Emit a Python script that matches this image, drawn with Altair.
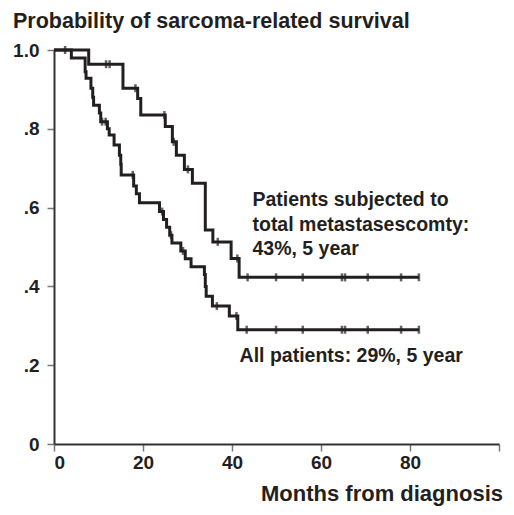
import altair as alt
import pandas as pd

# Kaplan-Meier curves (months, survival probability)
all_t = [0, 3.9, 7.0, 7.2, 8.3, 8.7, 8.9, 10.2, 10.5, 12.0, 12.4, 13.5, 14.7, 15.0, 15.1,
         17.9, 18.5, 19.2, 23.7, 24.6, 25.3, 26.0, 26.5, 28.5, 29.5, 30.8, 33.8, 34.0,
         34.2, 35.6, 39.4, 41.3, 82]
all_s = [1.0, 0.98, 0.945, 0.928, 0.903, 0.88, 0.86, 0.84, 0.818, 0.80, 0.784, 0.759, 0.733,
         0.71, 0.683, 0.655, 0.635, 0.612, 0.59, 0.57, 0.55, 0.53, 0.51, 0.49, 0.47, 0.45,
         0.43, 0.40, 0.375, 0.35, 0.325, 0.29, 0.29]
all_cens = [2.5, 10.8, 11.6, 17.7, 24.3, 26.3, 29.0, 36.6, 41.0, 43.3, 49.9, 55.9, 64.7,
            65.4, 70.5, 78.0, 82.0]

met_t = [0, 7.8, 15.5, 18.8, 19.5, 25.0, 26.6, 27.5, 29.3, 31.1, 34.0, 35.7, 39.8, 41.6, 82]
met_s = [1.0, 0.964, 0.903, 0.877, 0.835, 0.806, 0.767, 0.733, 0.697, 0.662, 0.543, 0.513,
         0.471, 0.423, 0.423]
met_cens = [11.7, 12.5, 18.3, 24.8, 26.9, 30.1, 36.8, 41.2, 43.5, 49.9, 55.9, 64.7, 65.4,
            70.5, 78.0, 82.0]

x_ticks = [0, 20, 40, 60, 80, 100]
y_ticks = [0, 0.2, 0.4, 0.6, 0.8, 1.0]

ann_text = ["Patients subjected to\ntotal metastasescomty:\n43%, 5 year",
            "All patients: 29%, 5 year"]
ann_t = [44.6, 41.7]
ann_s = [0.603, 0.208]

FONT = "Liberation Sans"
INK = "#231f20"


def step_value(ts, ss, t):
    v = ss[0]
    for ti, si in zip(ts, ss):
        if ti <= t:
            v = si
    return v


curves = pd.DataFrame(
    [{"t": t, "s": s, "grp": "all"} for t, s in zip(all_t, all_s)]
    + [{"t": t, "s": s, "grp": "met"} for t, s in zip(met_t, met_s)]
)
cens = pd.DataFrame(
    [{"t": t, "s": step_value(all_t, all_s, t), "grp": "all"} for t in all_cens]
    + [{"t": t, "s": step_value(met_t, met_s, t), "grp": "met"} for t in met_cens]
)
ann = pd.DataFrame({"t": ann_t, "s": ann_s, "text": ann_text})

x_enc = alt.X("t:Q", scale=alt.Scale(domain=[0, 100], nice=False),
              axis=alt.Axis(values=x_ticks, labelExpr="datum.value == 100 ? '' : datum.label",
                            title="Months from diagnosis", grid=False,
                            titleAlign="right", titleAnchor="end", titleX=448.5, titleY=56,
                            titleBaseline="alphabetic", labelPadding=2))
y_enc = alt.Y("s:Q", scale=alt.Scale(domain=[0, 1], nice=False),
              axis=alt.Axis(values=y_ticks,
                            labelExpr="datum.value == 0 ? '0' : (datum.value == 1 ? '1.0' : replace(format(datum.value, '.1f'), '0.', '.'))",
                            title="Probability of sarcoma-related survival", grid=False,
                            titleAngle=0, titleAlign="left", titleAnchor="start",
                            titleX=-41.5, titleY=-23, titleBaseline="alphabetic",
                            titleFontSize=21.5, labelPadding=8))

lines = alt.Chart(curves).mark_line(interpolate="step-after", color=INK, strokeWidth=3).encode(
    x=x_enc, y=y_enc, detail="grp:N")
ticks = alt.Chart(cens).mark_tick(orient="vertical", color=INK, size=8, thickness=2.5).encode(
    x="t:Q", y="s:Q")
texts = alt.Chart(ann).mark_text(align="left", baseline="alphabetic", font=FONT, fontSize=19.5,
                                 fontWeight="bold", color=INK, lineBreak="\n",
                                 lineHeight=24.5).encode(x="t:Q", y="s:Q", text="text:N")

chart = alt.layer(lines, ticks, texts).properties(
    width=445, height=394,
    autosize=alt.AutoSizeParams(type="none"),
    padding={"left": 46, "top": 42, "right": 5, "bottom": 64},
).configure_view(stroke=None).configure_axis(
    labelFont=FONT, labelFontSize=19, labelFontWeight="bold", labelColor=INK,
    titleFont=FONT, titleFontSize=22, titleFontWeight="bold", titleColor=INK,
    tickSize=7, tickColor="#777777", tickWidth=1.5,
    domainColor="#333333", domainWidth=2,
)

chart.save("out.html", embed_options={"renderer": "svg", "actions": False})
